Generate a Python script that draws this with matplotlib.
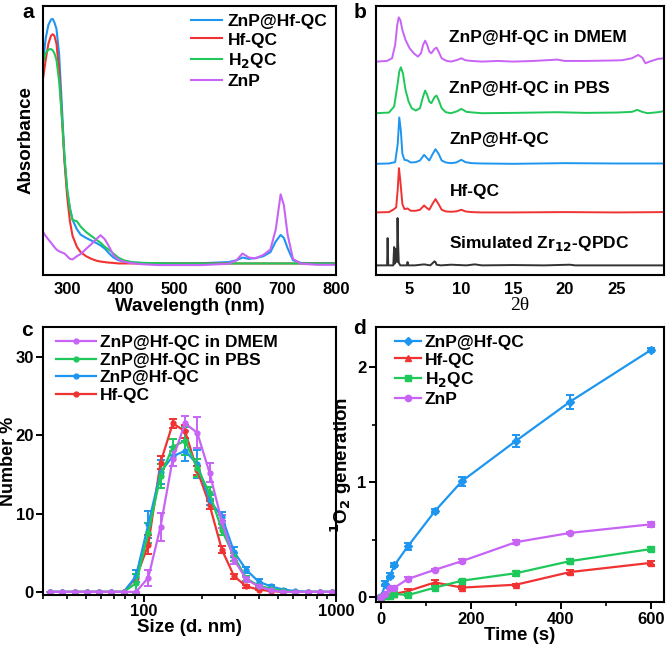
import numpy as np
import matplotlib.pyplot as plt
from matplotlib.lines import Line2D
from matplotlib.ticker import MultipleLocator, LogLocator, NullFormatter, FuncFormatter

plt.rcParams['font.family'] = ['Liberation Sans', 'DejaVu Sans']
plt.rcParams['font.weight'] = 'bold'
plt.rcParams['axes.labelweight'] = 'bold'
plt.rcParams['axes.linewidth'] = 1.5
plt.rcParams['mathtext.default'] = 'bf'

BLUE = '#1e96f0'
RED = '#f03232'
GREEN = '#1ec85a'
PURPLE = '#c864f5'
BLACK = '#333333'

# ---------------- panel a: UV-vis ----------------
wl = [255, 260, 265, 270, 273, 276, 280, 285, 290, 295, 300, 305, 310, 318, 325,
      335, 345, 355, 362, 370, 378, 386, 395, 405, 420, 440, 470, 500, 550, 600,
      615, 626, 638, 650, 665, 678, 688, 697, 703, 710, 720, 735, 765, 800]
abs_znp_hf = [0.79, 0.88, 0.93, 0.95, 0.952, 0.94, 0.915, 0.82, 0.63, 0.43, 0.31, 0.25,
              0.205, 0.17, 0.15, 0.138, 0.128, 0.118, 0.11, 0.098, 0.08, 0.065, 0.055,
              0.05, 0.046, 0.045, 0.044, 0.043, 0.044, 0.048, 0.055, 0.065, 0.06, 0.063,
              0.07, 0.085, 0.125, 0.149, 0.138, 0.1, 0.055, 0.045, 0.044, 0.044]
abs_hf = [0.73, 0.80, 0.86, 0.89, 0.895, 0.89, 0.86, 0.76, 0.59, 0.42, 0.29, 0.20,
          0.145, 0.105, 0.085, 0.07, 0.06, 0.053, 0.05, 0.048, 0.046, 0.045, 0.043,
          0.043, 0.043, 0.043, 0.043, 0.043, 0.043, 0.043, 0.043, 0.043, 0.043, 0.043,
          0.043, 0.043, 0.043, 0.043, 0.043, 0.043, 0.043, 0.043, 0.043, 0.043]
abs_h2qc = [0.79, 0.825, 0.838, 0.84, 0.835, 0.825, 0.80, 0.72, 0.59, 0.44, 0.32, 0.245,
            0.205, 0.20, 0.18, 0.16, 0.145, 0.13, 0.12, 0.105, 0.093, 0.08, 0.065,
            0.055, 0.048, 0.045, 0.044, 0.043, 0.043, 0.043, 0.043, 0.043, 0.043, 0.043,
            0.043, 0.043, 0.043, 0.043, 0.043, 0.043, 0.043, 0.043, 0.043, 0.043]
abs_znp = [0.16, 0.145, 0.132, 0.12, 0.112, 0.104, 0.095, 0.088, 0.084, 0.08, 0.07, 0.06,
           0.058, 0.07, 0.078, 0.097, 0.115, 0.135, 0.148, 0.133, 0.105, 0.074, 0.058,
           0.05, 0.044, 0.04, 0.037, 0.037, 0.037, 0.042, 0.055, 0.08, 0.065, 0.062,
           0.075, 0.095, 0.17, 0.30, 0.26, 0.15, 0.06, 0.042, 0.038, 0.038]

# ---------------- panel b: PXRD ----------------
th_dmem = [1.75, 2.8, 3.3, 3.6, 3.8, 3.95, 4.1, 4.3, 4.6, 5.0, 5.4, 5.8, 6.1, 6.3, 6.5,
           6.7, 6.9, 7.1, 7.4, 7.6, 7.8, 8.1, 8.5, 9.0, 9.6, 10.0, 10.4, 11.0, 12.0,
           13.5, 15.0, 17.0, 19.3, 20.0, 22.0, 24.0, 25.5, 26.5, 27.1, 27.5, 27.8,
           28.2, 29.0, 29.6]
i_dmem = [0, 2, 10, 50, 110, 133, 125, 95, 65, 40, 25, 15, 25, 50, 63, 50, 30, 25, 38,
          42, 30, 10, 3, 0, 5, 10, 4, 2, 0, 2, 0, 2, 6, 2, 2, 3, 4, 10, 20, 12, -5, 0,
          8, 10]
th_pbs = [1.75, 3.0, 3.5, 3.8, 4.0, 4.15, 4.35, 4.6, 4.9, 5.2, 5.6, 6.0, 6.3, 6.5, 6.7,
          6.9, 7.1, 7.4, 7.6, 7.8, 8.1, 8.5, 9.0, 9.6, 10.0, 10.5, 11.2, 12.0, 15.0,
          19.3, 22.0, 25.0, 26.5, 27.0, 27.5, 28.0, 29.0, 29.6]
i_pbs = [0, 2, 20, 80, 125, 138, 120, 70, 35, 15, 8, 15, 50, 68, 55, 35, 30, 48, 53,
         40, 15, 3, 0, 6, 13, 4, 2, 0, 1, 3, 1, 2, 4, 10, 4, 0, 3, 6]
th_znp_hf = [1.75, 3.0, 3.6, 3.85, 4.0, 4.15, 4.3, 4.5, 4.8, 5.1, 5.6, 6.0, 6.4, 6.6,
             6.9, 7.2, 7.5, 7.8, 8.1, 8.5, 9.0, 9.5, 10.0, 10.4, 11.0, 12.0, 15.0,
             20.0, 25.0, 29.6]
i_znp_hf = [0, 1, 5, 60, 139, 100, 30, 12, 10, 4, 5, 10, 27, 20, 10, 28, 44, 30, 10, 4,
            2, 4, 12, 5, 2, 1, 0, 2, 1, 1]
th_hf = [1.75, 3.0, 3.4, 3.7, 3.85, 3.97, 4.1, 4.3, 4.5, 4.8, 5.1, 5.6, 6.0, 6.4, 6.6,
         6.9, 7.2, 7.5, 7.8, 8.1, 8.5, 9.0, 9.5, 10.0, 10.4, 11.0, 12.0, 15.0, 20.0,
         25.0, 29.6]
i_hf = [0, 1, 8, 15, 70, 133, 95, 25, 10, 12, 5, 5, 8, 21, 15, 8, 25, 40, 25, 8, 3, 2,
        3, 8, 3, 1, 0, 0, 1, 0, 1]
th_sim = [1.75, 2.82, 2.87, 2.93, 3.42, 3.50, 3.56, 3.62, 3.70, 3.78, 3.83, 3.88, 3.95,
          4.1, 4.75, 4.8, 4.85, 5.5, 6.4, 7.0, 7.4, 7.5, 7.6, 8.0, 9.0, 10.5, 11.3,
          12.0, 15.0, 18.0, 20.5, 21.0, 25.0, 29.6]
i_sim = [0, 0, 82, 0, 0, 55, 5, 50, 45, 10, 142, 70, 8, 0, 0, 10, 0, 0, 3, 0, 12, 10,
         2, 0, 2, 0, 3, 0, 1, 0, 2, 0, 0, 0]

# ---------------- panel c: DLS ----------------
size_nm = [32.67, 37.84, 43.82, 50.75, 58.77, 68.06, 78.82, 91.28, 105.7, 122.4,
           141.8, 164.2, 190.1, 220.2, 255.0, 295.3, 342.0, 396.1, 458.7, 531.2,
           615.1, 712.4, 825.0, 955.4]
num_hf = [0, 0, 0, 0, 0, 0, 0, 1.8, 6.0, 16.5, 21.5, 20.5, 15.5, 11.1, 5.4, 2.0, 0.7,
          0.3, 0.1, 0, 0, 0, 0, 0]
err_hf = [0, 0, 0, 0, 0, 0, 0, 0.5, 1.2, 0.8, 0.6, 0.8, 0.6, 0.5, 0.4, 0.3, 0.2, 0.1,
          0, 0, 0, 0, 0, 0]
num_znp_hf = [0, 0, 0, 0, 0, 0, 0, 2.0, 8.6, 15.3, 17.3, 18.0, 16.3, 11.7, 9.6, 5.1,
              2.8, 1.3, 0.7, 0.3, 0.1, 0, 0, 0]
err_znp_hf = [0, 0, 0, 0, 0, 0, 0, 0.8, 1.7, 1.5, 1.2, 1.3, 1.8, 0.6, 0.6, 0.6, 0.4,
              0.3, 0.2, 0.1, 0, 0, 0, 0]
num_pbs = [0, 0, 0, 0, 0, 0, 0, 1.1, 7.5, 14.8, 18.5, 19.3, 15.8, 12.6, 7.9, 4.5, 1.7,
           0.8, 0.4, 0.1, 0, 0, 0, 0]
err_pbs = [0, 0, 0, 0, 0, 0, 0, 1.2, 1.3, 1.5, 1.0, 1.8, 1.2, 0.8, 0.7, 0.5, 0.3, 0.2,
           0.1, 0, 0, 0, 0, 0]
num_dmem = [0, 0, 0, 0, 0, 0, 0, 0, 1.8, 8.3, 17.0, 21.5, 20.3, 15.2, 9.0, 4.1, 1.6,
            0.7, 0.2, 0, 0, 0, 0, 0]
err_dmem = [0, 0, 0, 0, 0, 0, 0, 0, 1.0, 1.8, 1.0, 1.0, 2.0, 1.2, 0.8, 0.5, 0.3, 0.2,
            0, 0, 0, 0, 0, 0]

# ---------------- panel d: singlet oxygen ----------------
time_s = [0, 10, 20, 30, 60, 120, 180, 300, 420, 600]
o2_znp_hf = [0, 0.12, 0.19, 0.28, 0.445, 0.75, 1.01, 1.36, 1.70, 2.15]
o2_znp_hf_err = [0.01, 0.02, 0.02, 0.02, 0.03, 0.02, 0.04, 0.05, 0.06, 0.02]
o2_hf = [0, 0.02, 0.02, 0.03, 0.055, 0.13, 0.085, 0.11, 0.22, 0.30]
o2_hf_err = [0.01, 0.01, 0.01, 0.01, 0.02, 0.02, 0.01, 0.01, 0.02, 0.02]
o2_h2qc = [0, 0.01, 0.015, 0.03, 0.02, 0.085, 0.145, 0.21, 0.315, 0.42]
o2_h2qc_err = [0.01, 0.01, 0.01, 0.01, 0.01, 0.01, 0.01, 0.02, 0.02, 0.02]
o2_znp = [0, 0.03, 0.08, 0.085, 0.16, 0.24, 0.315, 0.48, 0.56, 0.635]
o2_znp_err = [0.01, 0.01, 0.01, 0.01, 0.02, 0.01, 0.02, 0.02, 0.01, 0.02]


fig = plt.figure(figsize=(6.66, 6.45), dpi=100)
ax_a = fig.add_axes([0.0646, 0.5736, 0.4399, 0.4171])
ax_b = fig.add_axes([0.5646, 0.5736, 0.4324, 0.4171])
ax_c = fig.add_axes([0.0646, 0.0775, 0.4399, 0.4155])
ax_d = fig.add_axes([0.5646, 0.0667, 0.4324, 0.4264])

tick_fs = 12
label_fs = 13.5
leg_fs = 12.5

# panel a
ax_a.plot(wl, abs_znp_hf, color=BLUE, lw=1.5, label='ZnP@Hf-QC')
ax_a.plot(wl, abs_hf, color=RED, lw=1.5, label='Hf-QC')
ax_a.plot(wl, abs_h2qc, color=GREEN, lw=1.5, label='H$_2$QC')
ax_a.plot(wl, abs_znp, color=PURPLE, lw=1.5, label='ZnP')
ax_a.set_xlim(255, 800)
ax_a.set_ylim(0, 1)
ax_a.set_yticks([])
ax_a.xaxis.set_major_locator(MultipleLocator(100))
ax_a.tick_params(axis='x', length=0, labelsize=tick_fs, pad=5)
ax_a.set_xlabel('Wavelength (nm)', fontsize=label_fs, labelpad=1)
ax_a.set_ylabel('Absorbance', fontsize=label_fs, labelpad=6)
ax_a.legend(loc='upper left', bbox_to_anchor=(0.47, 1.01), frameon=False,
            fontsize=leg_fs, handlelength=1.8, handletextpad=0.3,
            labelspacing=0.2, borderaxespad=0.2)

# panel b
offsets_b = [641, 486, 334, 188, 29]
xrd = [(th_dmem, i_dmem, PURPLE), (th_pbs, i_pbs, GREEN), (th_znp_hf, i_znp_hf, BLUE),
       (th_hf, i_hf, RED), (th_sim, i_sim, BLACK)]
for (th, inten, col), off in zip(xrd, offsets_b):
    ax_b.plot(th, np.array(inten) + off, color=col, lw=1.4)
ax_b.set_xlim(1.75, 29.6)
ax_b.set_ylim(0, 808)
ax_b.set_yticks([])
ax_b.xaxis.set_major_locator(MultipleLocator(5))
ax_b.tick_params(axis='x', length=0, labelsize=tick_fs, pad=5)
ax_b.set_xlabel('2θ', fontsize=14, fontfamily='Liberation Serif',
                fontweight='normal', labelpad=0)
b_labels = ['ZnP@Hf-QC in DMEM', 'ZnP@Hf-QC in PBS', 'ZnP@Hf-QC', 'Hf-QC',
            'Simulated Zr$_{12}$-QPDC']
b_label_y = [0.882, 0.694, 0.504, 0.31, 0.118]
for lab, yy in zip(b_labels, b_label_y):
    ax_b.text(0.255, yy, lab, transform=ax_b.transAxes, fontsize=leg_fs,
              ha='left', va='center')

# panel c
dls = [(num_hf, err_hf, RED), (num_znp_hf, err_znp_hf, BLUE),
       (num_pbs, err_pbs, GREEN), (num_dmem, err_dmem, PURPLE)]
for vals, errs, col in dls:
    ax_c.errorbar(size_nm, vals, yerr=errs, fmt='-o', color=col, ms=3.5, lw=1.6,
                  elinewidth=1.4, capsize=3, capthick=1.4)
ax_c.set_xscale('log')
ax_c.set_xlim(30, 1000)
ax_c.set_ylim(-0.4, 33.8)
ax_c.xaxis.set_major_locator(LogLocator(base=10, numticks=5))
ax_c.xaxis.set_minor_locator(LogLocator(base=10, subs=np.arange(2, 10), numticks=10))
ax_c.xaxis.set_minor_formatter(NullFormatter())
ax_c.xaxis.set_major_formatter(FuncFormatter(lambda v, p: '%d' % v))
ax_c.yaxis.set_major_locator(MultipleLocator(10))
ax_c.tick_params(which='major', length=5, width=1.4, labelsize=tick_fs, pad=1.5)
ax_c.tick_params(which='minor', length=3, width=1.2)
ax_c.set_xlabel('Size (d. nm)', fontsize=label_fs, labelpad=0)
ax_c.set_ylabel('Number %', fontsize=13, labelpad=-1)
c_handles = [Line2D([], [], color=PURPLE, marker='o', ms=3.5, lw=1.6),
             Line2D([], [], color=GREEN, marker='o', ms=3.5, lw=1.6),
             Line2D([], [], color=BLUE, marker='o', ms=3.5, lw=1.6),
             Line2D([], [], color=RED, marker='o', ms=3.5, lw=1.6)]
ax_c.legend(c_handles, ['ZnP@Hf-QC in DMEM', 'ZnP@Hf-QC in PBS', 'ZnP@Hf-QC', 'Hf-QC'],
            loc='upper left', bbox_to_anchor=(0.01, 1.01), frameon=False,
            fontsize=leg_fs, handlelength=2.3, handletextpad=0.2,
            labelspacing=0.15, borderaxespad=0.2)

# panel d
sog = [(o2_znp_hf, o2_znp_hf_err, BLUE, 'D', 'ZnP@Hf-QC'),
       (o2_hf, o2_hf_err, RED, '^', 'Hf-QC'),
       (o2_h2qc, o2_h2qc_err, GREEN, 's', 'H$_2$QC'),
       (o2_znp, o2_znp_err, PURPLE, 'o', 'ZnP')]
d_handles = []
for vals, errs, col, mk, lab in sog:
    ax_d.errorbar(time_s, vals, yerr=errs, fmt='-' + mk, color=col, ms=4.5, lw=1.6,
                  elinewidth=1.4, capsize=3, capthick=1.4)
    d_handles.append(Line2D([], [], color=col, marker=mk, ms=4.5, lw=1.6, label=lab))
ax_d.set_xlim(-11, 629)
ax_d.set_ylim(-0.04, 2.35)
ax_d.xaxis.set_major_locator(MultipleLocator(200))
ax_d.xaxis.set_minor_locator(MultipleLocator(100))
ax_d.yaxis.set_major_locator(MultipleLocator(1))
ax_d.yaxis.set_minor_locator(MultipleLocator(0.5))
ax_d.tick_params(which='major', length=5, width=1.4, labelsize=tick_fs, pad=2)
ax_d.tick_params(which='minor', length=3, width=1.2)
ax_d.set_xlabel('Time (s)', fontsize=label_fs, labelpad=0)
ax_d.set_ylabel('$^1$O$_2$ generation', fontsize=label_fs, labelpad=2)
ax_d.legend(handles=d_handles, loc='upper left', bbox_to_anchor=(0.03, 1.01),
            frameon=False, fontsize=leg_fs, handlelength=1.5, handletextpad=0.2,
            labelspacing=0.15, borderaxespad=0.2)

# panel letters
for lab, xx, yy in [('a', 28, 13), ('b', 360, 12), ('c', 27, 330), ('d', 360, 328)]:
    fig.text(xx / 666, 1 - yy / 645, lab, fontsize=15, fontweight='bold',
             ha='center', va='center')

fig.savefig('out.png', dpi=100)
